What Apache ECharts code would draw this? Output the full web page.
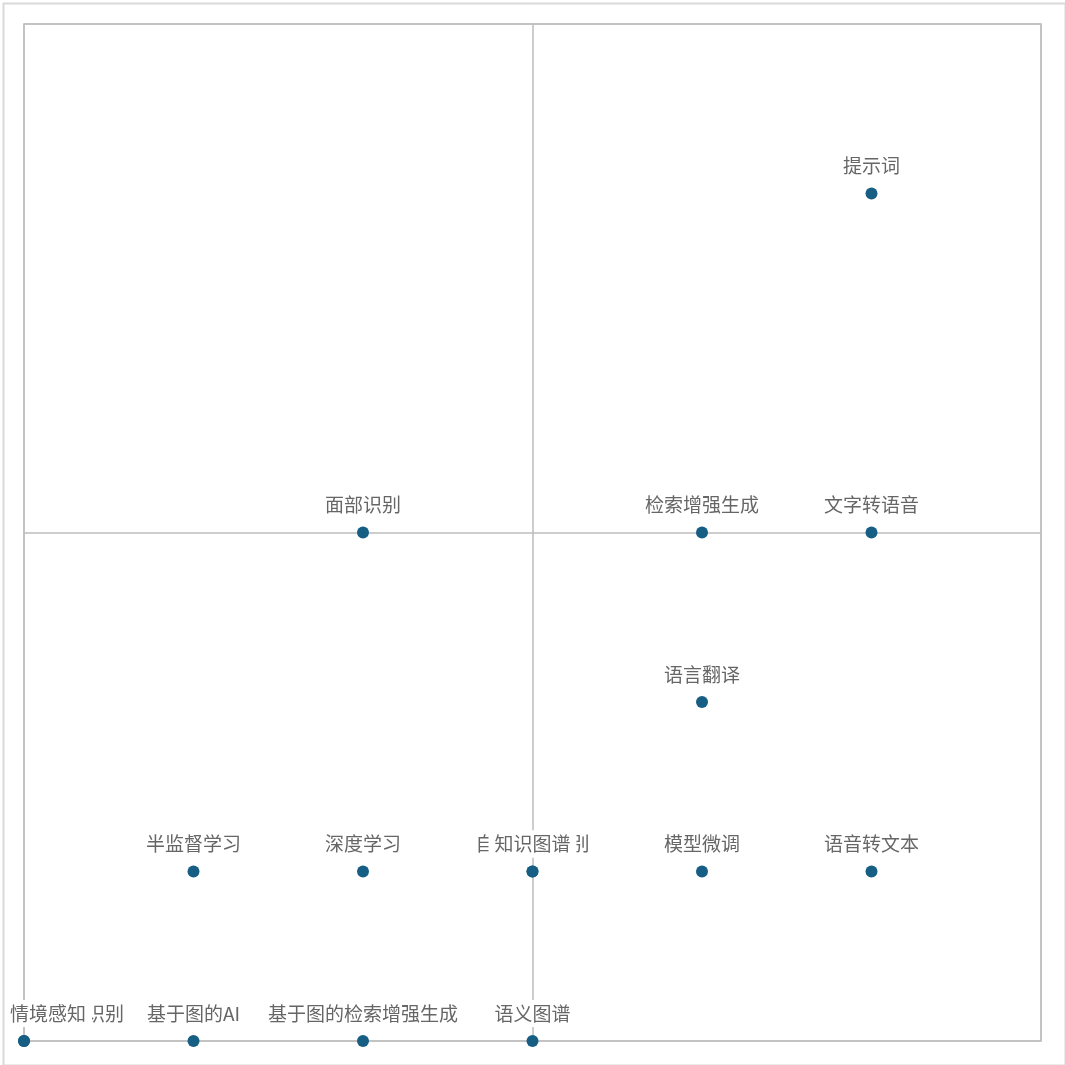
<!DOCTYPE html>
<html>
<head>
<meta charset="utf-8">
<script src="https://cdn.jsdelivr.net/npm/echarts@6/dist/echarts.min.js"></script>
<style>
html,body{margin:0;padding:0;background:#fff;}
#chart{width:1065px;height:1065px;}
</style>
</head>
<body>
<div id="chart"></div>
<script>
// Data (drawing order: later items are drawn on top)
var names = ['光学字符识别', '情境感知', '基于图的AI', '基于图的检索增强生成', '语义图谱',
             '半监督学习', '深度学习', '自动语音识别', '知识图谱', '模型微调', '语音转文本',
             '语言翻译', '面部识别', '检索增强生成', '文字转语音', '提示词'];
var xValues = [0, 0, 1, 2, 3, 1, 2, 3, 3, 4, 5, 4, 2, 4, 5, 5];
var yValues = [0, 0, 0, 0, 0, 1, 1, 1, 1, 1, 1, 2, 3, 3, 3, 5];
var axisMin = 0, axisMax = 6, midInterval = 3;

var points = names.map(function (n, i) { return { name: n, value: [xValues[i], yValues[i]] }; });

var chart = echarts.init(document.getElementById('chart'), null, { renderer: 'canvas' });
chart.setOption({
  animation: false,
  backgroundColor: '#fff',
  graphic: [{
    type: 'rect', left: 1, top: 1, z: 100,
    shape: { x: 0, y: 0, width: 1062, height: 1062 },
    style: { fill: 'none', stroke: '#d9d9d9', lineWidth: 2 }
  }],
  grid: { left: 24, right: 24, top: 24, bottom: 24, show: true, borderColor: '#d6d6d6', borderWidth: 2, backgroundColor: 'transparent' },
  xAxis: {
    type: 'value', min: axisMin, max: axisMax, interval: midInterval,
    axisLine: { show: false }, axisTick: { show: false }, axisLabel: { show: false },
    splitLine: { show: true, lineStyle: { color: '#bdbdbd', width: 1.5 } }
  },
  yAxis: {
    type: 'value', min: axisMin, max: axisMax, interval: midInterval,
    axisLine: { show: false }, axisTick: { show: false }, axisLabel: { show: false },
    splitLine: { show: true, lineStyle: { color: '#bdbdbd', width: 1.5 } }
  },
  series: [{
    type: 'scatter',
    data: points,
    symbolSize: 12,
    itemStyle: { color: '#175e84', opacity: 1 },
    label: {
      show: true, position: 'top', distance: 8,
      formatter: '{b}',
      color: '#666', fontSize: 19,
      fontFamily: '"Noto Sans CJK SC", "Noto Sans", sans-serif',
      backgroundColor: '#fff', padding: [4, 6, 4, 6]
    },
    labelLayout: function (params) {
      var r = params.labelRect;
      if (r.x < 3) {
        return { x: 4, y: r.y + r.height / 2, align: 'left', verticalAlign: 'middle' };
      }
      return {};
    },
    emphasis: { disabled: true }
  }]
});
</script>
</body>
</html>
